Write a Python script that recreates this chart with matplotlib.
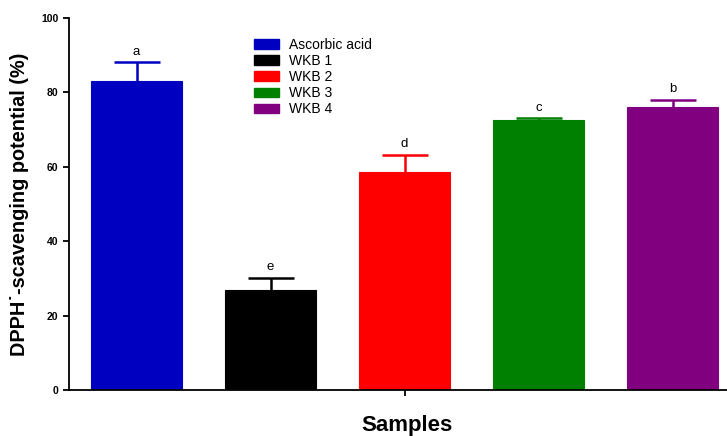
import matplotlib
matplotlib.use("Agg")
import matplotlib.pyplot as plt
from matplotlib.patches import Patch

plt.rcParams["font.family"] = ["Liberation Sans", "DejaVu Sans"]

samples = ["Ascorbic acid", "WKB 1", "WKB 2", "WKB 3", "WKB 4"]
values = [83.1, 26.9, 58.6, 72.6, 76.1]
errors = [5.1, 3.3, 4.6, 0.5, 1.9]
letters = ["a", "e", "d", "c", "b"]
colors = ["#0000c0", "#000000", "#ff0000", "#008000", "#800080"]

fig = plt.figure(figsize=(7.27, 4.36), dpi=100)
ax = fig.add_axes([0.0949, 0.1055, 0.93, 0.853])

x = list(range(len(samples)))
for i in x:
    ax.bar(i, values[i], width=0.677, color=colors[i], edgecolor=colors[i], linewidth=0.8)
    # upper error bar only: stem + cap
    ax.errorbar(i, values[i], yerr=[[0], [errors[i]]], fmt="none",
                ecolor=colors[i], elinewidth=1.8, capsize=0)
    ax.plot(i, values[i] + errors[i], marker="_", markersize=33,
            markeredgewidth=1.8, color=colors[i])
    ax.text(i, values[i] + errors[i] + 1.2, letters[i], ha="center", va="bottom",
            fontsize=9.5)

ax.set_ylim(0, 100)
ax.set_xlim(-0.504, 4.54)
ax.set_yticks([0, 20, 40, 60, 80, 100])
ax.set_xticks([2])
ax.set_xticklabels([""])
ax.tick_params(axis="y", labelsize=7.5, width=1.3, length=4)
ax.tick_params(axis="x", width=1.3, length=4)
for lab in ax.get_yticklabels():
    lab.set_fontweight("bold")
for s in ["top", "right"]:
    ax.spines[s].set_visible(False)
for s in ["left", "bottom"]:
    ax.spines[s].set_linewidth(1.3)

ax.set_ylabel("DPPH˙-scavenging potential (%)", fontsize=14.3, fontweight="bold", labelpad=9)
ax.set_xlabel("Samples", fontsize=16, fontweight="bold", labelpad=10.5)

handles = [Patch(facecolor=c, edgecolor=c) for c in colors]
ax.legend(handles, samples, loc="upper left", bbox_to_anchor=(0.255, 0.98),
          frameon=False, fontsize=10, handlelength=1.8, handleheight=0.7,
          labelspacing=0.15, handletextpad=0.7)

fig.savefig("out.png", dpi=100)
